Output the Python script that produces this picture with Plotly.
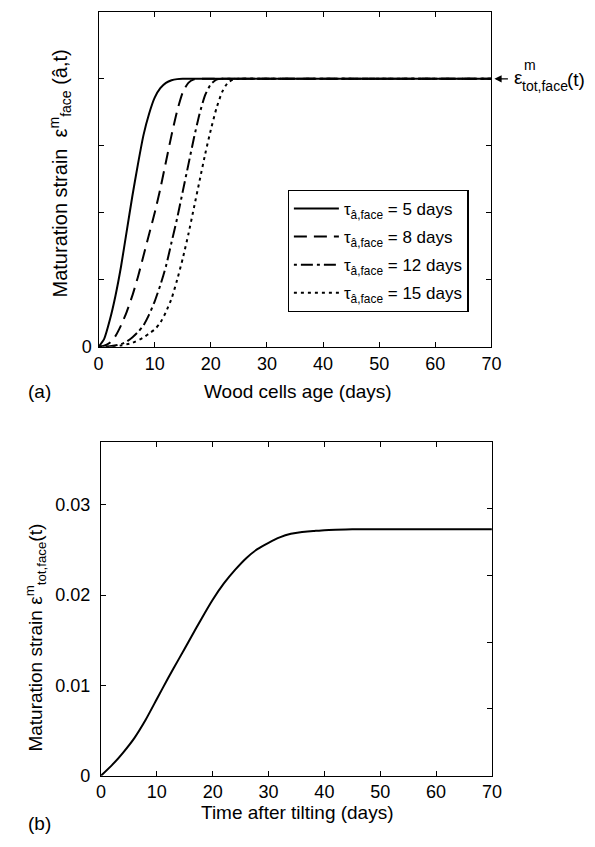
import plotly.graph_objects as go

# ---- Data ----
# Panel (a): normalised maturation strain vs wood cell age, for 4 values of tau
t_tau5 = [0, 1, 2, 3, 4, 5, 6, 7, 8, 9, 10, 11, 12, 13, 14, 15, 16, 70]
f_tau5 = [0, 0.03, 0.10, 0.19, 0.30, 0.43, 0.56, 0.68, 0.79, 0.87, 0.93, 0.965, 0.985, 0.995, 0.999, 1, 1, 1]

t_tau8 = [0, 1, 2, 3, 4, 5, 6, 7, 8, 9, 10, 11, 12, 13, 14, 15, 16, 17, 18, 19, 70]
f_tau8 = [0, 0.004, 0.015, 0.04, 0.08, 0.13, 0.19, 0.26, 0.34, 0.42, 0.50, 0.59, 0.69, 0.79, 0.88, 0.95, 0.985, 0.998, 1, 1, 1]

t_tau12 = [0, 2, 4, 5, 6, 7, 8, 9, 10, 11, 12, 13, 14, 15, 16, 17, 18, 19, 20, 21, 22, 23, 70]
f_tau12 = [0, 0.002, 0.01, 0.02, 0.035, 0.055, 0.08, 0.12, 0.17, 0.23, 0.30, 0.39, 0.48, 0.58, 0.68, 0.78, 0.87, 0.94, 0.98, 0.997, 1, 1, 1]

t_tau15 = [0, 2, 4, 6, 8, 9, 10, 11, 12, 13, 14, 15, 16, 17, 18, 19, 20, 21, 22, 23, 24, 25, 26, 70]
f_tau15 = [0, 0.001, 0.005, 0.015, 0.035, 0.05, 0.065, 0.09, 0.13, 0.18, 0.25, 0.33, 0.42, 0.52, 0.62, 0.72, 0.81, 0.89, 0.95, 0.985, 0.998, 1, 1, 1]

legend_names = ["τ<sub>â,face</sub> = 5 days", "τ<sub>â,face</sub> = 8 days",
                "τ<sub>â,face</sub> = 12 days", "τ<sub>â,face</sub> = 15 days"]

# Panel (b): total maturation strain vs time after tilting
t_tilt = [0, 2, 4, 6, 8, 10, 12, 14, 16, 18, 20, 22, 24, 26, 28, 30, 32, 34, 36, 38, 40, 42, 45, 50, 55, 70]
eps_tot = [0, 0.0012, 0.0026, 0.0042, 0.0062, 0.0085, 0.0108, 0.0130, 0.0152, 0.0174, 0.0195,
           0.0213, 0.0228, 0.0241, 0.0251, 0.0258, 0.0264, 0.0268, 0.0270, 0.0271, 0.0272,
           0.02725, 0.0273, 0.0273, 0.0273, 0.0273]

x_ticks = [0, 10, 20, 30, 40, 50, 60, 70]
ya_ticks = [0, 0.25, 0.5, 0.75, 1.0, 1.25]
yb_ticks = [0, 0.01, 0.02, 0.03]
yb_ticktext = ["0", "0.01", "0.02", "0.03"]

FONT = "Arial, Liberation Sans, sans-serif"
W, H = 595, 847

def px(x):
    return x / W

def py(y):
    return 1 - y / H

fig = go.Figure()

styles = [dict(dash="solid"), dict(dash="13px,7px"), dict(dash="3px,4px,12px,4px"), dict(dash="3px,4px")]
series = [(t_tau5, f_tau5), (t_tau8, f_tau8), (t_tau12, f_tau12), (t_tau15, f_tau15)]
for i, ((tt, ff), st, nm) in enumerate(zip(series, styles, legend_names)):
    fig.add_trace(go.Scatter(x=tt, y=ff, mode="lines", name=nm, legendgroup=f"g{i}",
                             line=dict(color="black", width=2, shape="spline", smoothing=0.6, **st),
                             xaxis="x", yaxis="y"))

fig.add_trace(go.Scatter(x=t_tilt, y=eps_tot, mode="lines", showlegend=False,
                         line=dict(color="black", width=2, shape="spline", smoothing=0.6),
                         xaxis="x2", yaxis="y2"))

axis_common = dict(showgrid=False, zeroline=False, showline=True, linecolor="black", linewidth=1.2,
                   ticks="inside", ticklen=5, tickwidth=1, tickcolor="black",
                   tickfont=dict(family=FONT, size=18, color="black"))

fig.update_layout(
    width=W, height=H, autosize=False,
    margin=dict(l=0, r=0, t=0, b=0),
    paper_bgcolor="white", plot_bgcolor="white",
    font=dict(family=FONT, color="black"),
    xaxis=dict(domain=[px(96), px(499)], anchor="y", range=[0, 70], tickvals=x_ticks,
               mirror="ticks", **axis_common),
    yaxis=dict(domain=[py(351), py(12)], anchor="x", range=[0, 1.25], tickvals=ya_ticks,
               ticktext=["0", "", "", "", "", ""], mirror="ticks", ticklabelstandoff=2, **axis_common),
    xaxis2=dict(domain=[px(98.5), px(499.5)], anchor="y2", range=[0, 70], tickvals=x_ticks,
                mirror="ticks", **axis_common),
    yaxis2=dict(domain=[py(785), py(447)], anchor="x2", range=[0, 0.037], tickvals=yb_ticks,
                ticktext=yb_ticktext, mirror=True, ticklabelstandoff=6, **axis_common),
    yaxis3=dict(overlaying="y2", anchor="x2", side="right", range=[0, 1.25],
                tickvals=ya_ticks[1:-1], showticklabels=False, showgrid=False, zeroline=False,
                showline=False, ticks="inside", ticklen=5, tickwidth=1, tickcolor="black"),
    legend=dict(x=px(290), y=py(192), xanchor="left", yanchor="top",
                bgcolor="white", bordercolor="black", borderwidth=1.2,
                font=dict(family=FONT, size=17, color="black"), itemwidth=45,
                tracegroupgap=3),
)

# invisible trace to activate yaxis3
fig.add_trace(go.Scatter(x=[None], y=[None], xaxis="x2", yaxis="y3", showlegend=False, hoverinfo="skip"))

ann = []
def text(x, y, s, size=19, angle=0, xanchor="center", yanchor="middle"):
    ann.append(dict(x=px(x), y=py(y), xref="paper", yref="paper", text=s, showarrow=False,
                    textangle=angle, xanchor=xanchor, yanchor=yanchor,
                    font=dict(family=FONT, size=size, color="black")))

text(301, 396, "Wood cells age (days)")
text(300, 822, "Time after tilting (days)")
text(35, 396, "(a)")
text(35, 833, "(b)")
text(57, 176, "Maturation strain  ε<sup>m</sup><sub>face</sub> (â,t)", size=20, angle=-90)
text(31, 645, "Maturation strain ε<sup>m</sup><sub>tot,face</sub>(t)", size=19, angle=-90)

# plateau annotation on panel (a)
ann.append(dict(x=70, y=1.0, xref="x", yref="y", ax=18, ay=0, axref="pixel", ayref="pixel",
                text="", showarrow=True, arrowhead=2, arrowsize=1.2, arrowwidth=1.2,
                arrowcolor="black", standoff=3))
text(520, 78, "ε", size=19, xanchor="left")
text(530, 66, "m", size=14, xanchor="left")
text(528, 87, "tot,face", size=14, xanchor="left")
text(574, 80, "(t)", size=19, xanchor="left")

fig.update_layout(annotations=ann)
fig.write_html("out.html", post_script="document.body.style.margin='0';",
               config={"displayModeBar": False})
